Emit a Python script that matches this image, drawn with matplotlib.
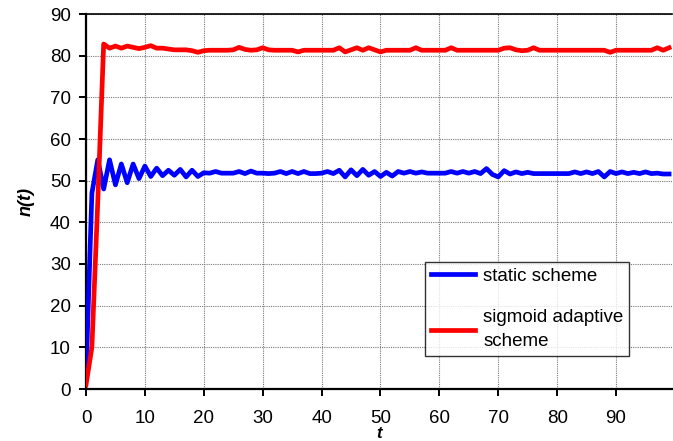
import numpy as np
import matplotlib
matplotlib.use("Agg")
import matplotlib.pyplot as plt

plt.rcParams['font.family'] = ['Liberation Sans', 'DejaVu Sans']

t = np.arange(100)

static_scheme = [
    3, 47, 55, 48, 55, 49, 54, 49.5, 54, 50.5,
    53.5, 51, 53, 51.2, 52.5, 51.3, 52.7, 50.9, 52.5, 51,
    51.9, 51.8, 52.2, 51.8, 51.8, 51.8, 52.2, 51.7, 52.3, 51.8,
    51.8, 51.7, 51.8, 52.2, 51.7, 52.2, 51.7, 52.2, 51.7, 51.7,
    51.8, 52.2, 51.7, 52.5, 50.9, 52.6, 51.2, 52.7, 51.3, 52.2,
    51.0, 52.0, 51.1, 52.2, 51.8, 52.2, 51.8, 52.1, 51.8, 51.8,
    51.8, 51.8, 52.2, 51.8, 52.2, 51.8, 52.2, 51.7, 52.9, 51.5,
    50.9, 52.4, 51.6, 52.1, 51.7, 52.0, 51.7, 51.7, 51.7, 51.7,
    51.7, 51.7, 51.7, 52.1, 51.7, 52.1, 51.7, 52.2, 50.9, 52.2,
    51.7, 52.1, 51.7, 52.0, 51.7, 52.1, 51.7, 51.8, 51.6, 51.6,
]

sigmoid_adaptive = [
    1, 10, 45, 82.8, 81.8, 82.3, 81.8, 82.3, 82.0, 81.7,
    82.0, 82.4, 81.8, 81.8, 81.6, 81.4, 81.4, 81.4, 81.2, 80.8,
    81.2, 81.3, 81.3, 81.3, 81.3, 81.4, 82.0, 81.5, 81.3, 81.4,
    81.9, 81.4, 81.3, 81.3, 81.3, 81.3, 80.9, 81.3, 81.3, 81.3,
    81.3, 81.3, 81.3, 81.9, 80.9, 81.4, 81.9, 81.3, 81.9, 81.4,
    80.9, 81.3, 81.3, 81.3, 81.3, 81.3, 81.9, 81.3, 81.3, 81.3,
    81.3, 81.3, 81.9, 81.3, 81.3, 81.3, 81.3, 81.3, 81.3, 81.3,
    81.3, 81.8, 81.9, 81.4, 81.2, 81.3, 81.9, 81.3, 81.3, 81.3,
    81.3, 81.3, 81.3, 81.3, 81.3, 81.3, 81.3, 81.3, 81.3, 80.8,
    81.3, 81.3, 81.3, 81.3, 81.3, 81.3, 81.3, 81.9, 81.3, 81.9,
]

x_ticks = [0, 10, 20, 30, 40, 50, 60, 70, 80, 90]
y_ticks = [0, 10, 20, 30, 40, 50, 60, 70, 80, 90]
labels = ["static scheme", "sigmoid adaptive\nscheme"]

fig = plt.figure(figsize=(6.73, 4.41), dpi=100)
ax = fig.add_axes([86/673, 1-389/441, 586/673, 375/441])

ax.plot(t, static_scheme, color='#0000FF', lw=3.4, label=labels[0], solid_joinstyle='round', zorder=3)
ax.plot(t, sigmoid_adaptive, color='#FF0000', lw=3.4, label=labels[1], solid_joinstyle='round', zorder=3)

ax.set_xlim(0, 99.5)
ax.set_ylim(0, 90)
ax.set_xticks(x_ticks)
ax.set_yticks(y_ticks)
ax.grid(True, color='#7a7a7a', linestyle=(0, (1, 1)), linewidth=0.8)
ax.set_axisbelow(True)

for s in ['left', 'bottom']:
    ax.spines[s].set_linewidth(1.6)
    ax.spines[s].set_color('black')
ax.spines['top'].set_linewidth(1.2)
ax.spines['top'].set_color('black')
ax.spines['right'].set_visible(False)

ax.tick_params(axis='both', direction='out', length=5, width=1.4, labelsize=13.5, colors='black')
ax.tick_params(axis='x', pad=10)
ax.tick_params(axis='y', pad=6)

ax.set_xlabel('t', fontsize=12, fontweight='bold', fontstyle='italic')
ax.xaxis.set_label_coords(0.5, -(426 - 389) / 375)
ax.set_ylabel('n(t)', fontsize=13, fontweight='bold', fontstyle='italic', labelpad=11)

leg = ax.legend(loc='upper left', bbox_to_anchor=((425-86)/586, (389-262)/375),
                fontsize=13.5, frameon=True, fancybox=False, edgecolor='black',
                handlelength=2.35, handletextpad=0.45, labelspacing=1.3,
                borderpad=0.3, borderaxespad=0)
leg.get_frame().set_linewidth(1.0)
for line in leg.get_lines():
    line.set_linewidth(3.4)
for txt in leg.get_texts():
    txt.set_linespacing(1.55)

fig.savefig('out.png', dpi=100)
